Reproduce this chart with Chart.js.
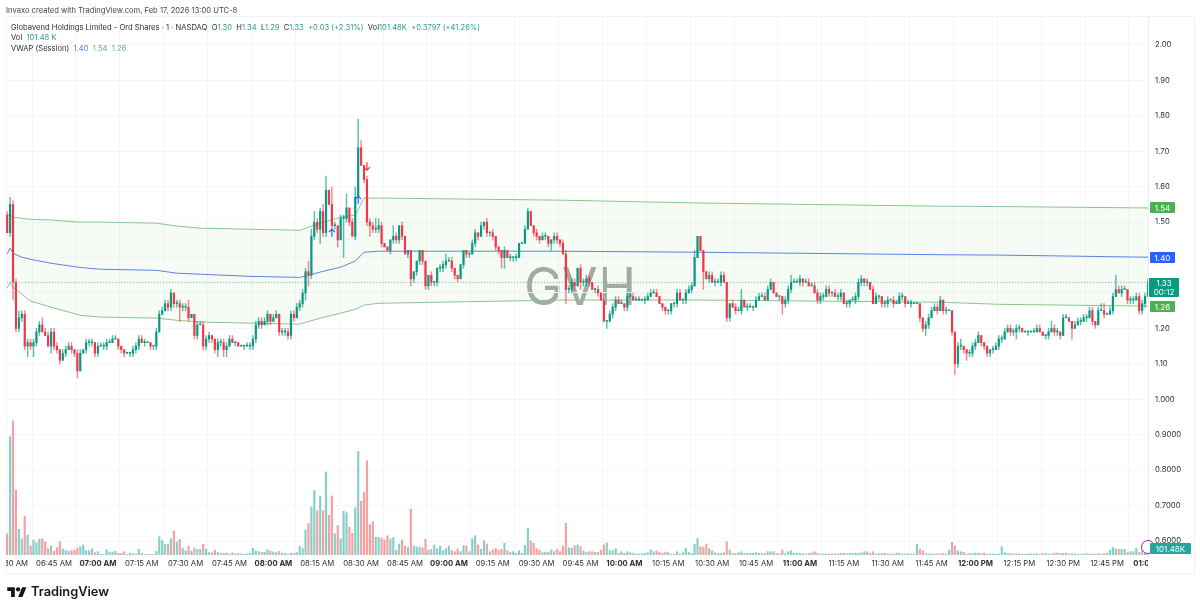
<!DOCTYPE html>
<html>
<head>
<meta charset="utf-8">
<title>GVH</title>
<script src="https://cdn.jsdelivr.net/npm/chart.js@4/dist/chart.umd.min.js"></script>
<style>
    html, body { margin: 0; padding: 0; background: #fff; }
    body { width: 1200px; height: 611px; position: relative; overflow: hidden; font-family: Inter, "Liberation Sans", sans-serif; color: #2a2e39; }
    #gvhChart { position: absolute; left: 0; top: 0; z-index: 1; }
    .txt { position: absolute; white-space: pre; font-size: 7.6px; line-height: 11px; z-index: 2; }
    .up { color: #2f9e8f; }
    .tag { position: absolute; z-index: 3; color: #fff; font-size: 8px; line-height: 10px; text-align: center; border-radius: 1px; }
    #frame { position: absolute; left: 6px; top: 16px; width: 1187px; height: 556px; border: 1px solid #f0f3fa; z-index: 0; }
    #watermark { position: absolute; left: 524px; top: 256px; font-size: 52px; line-height: 62px; color: #a8aaa8; z-index: 0; }
    .cover { position: absolute; background: #fff; z-index: 2; }
    #volIcon { position: absolute; left: 1141px; top: 540px; width: 12px; height: 12px; border: 1px solid #9c27b0; border-radius: 50%; z-index: 2; background: #fff; }
    #logo { position: absolute; left: 7px; top: 585px; z-index: 2; }
    #brand { position: absolute; left: 31px; top: 582px; font-size: 12.8px; line-height: 20px; font-weight: 600; color: #131722; z-index: 2; }
</style>
</head>
<body>
<div id="frame"></div>
<div id="watermark">GVH</div>
<canvas id="gvhChart" width="1200" height="611"></canvas>

<div class="cover" style="left:0;top:556px;width:6px;height:16px"></div>
<div class="cover" style="left:1148px;top:556px;width:44px;height:16px"></div>

<div class="txt" style="left:6px;top:5px;color:#434651">Invaxo created with TradingView.com, Feb 17, 2026 13:00 UTC-8</div>
<div class="txt" style="left:11px;top:22px">Globavend Holdings Limited - Ord Shares · 1 · NASDAQ  O<span class="up">1.30</span>  H<span class="up">1.34</span>  L<span class="up">1.29</span>  C<span class="up">1.33</span>  <span class="up">+0.03 (+2.31%)</span>  Vol<span class="up">101.48K</span>  <span class="up">+0.3797 (+41.26%)</span></div>
<div class="txt" style="left:11px;top:32px">Vol  <span class="up">101.48 K</span></div>
<div class="txt" style="left:11px;top:43px">VWAP (Session)  <span style="color:#5b82e8">1.40</span>  <span style="color:#6fb672">1.54</span>  <span style="color:#6fb672">1.26</span></div>

<div class="tag" style="left:1150px;top:202px;width:25px;height:10px;padding-top:1px;background:#4caf50">1.54</div>
<div class="tag" style="left:1150px;top:252px;width:25px;height:10px;padding-top:1px;background:#2962ff">1.40</div>
<div class="tag" style="left:1149px;top:278px;width:30px;height:18px;padding-top:1px;background:#089981;line-height:9px">1.33<br>00:12</div>
<div class="tag" style="left:1150px;top:301px;width:25px;height:10px;padding-top:1px;background:#4caf50">1.26</div>
<div id="volIcon"></div>
<div class="tag" style="left:1150px;top:543px;width:41px;height:10px;padding-top:1px;background:#26a69a">101.48K</div>

<svg id="logo" width="20" height="13" viewBox="0 0 36 24"><path fill="#131722" d="M14 22H7V11H0V4h14v18zM28 22h-8l7.5-18h8L28 22z"/><circle fill="#131722" cx="20" cy="8" r="4"/></svg>
<div id="brand">TradingView</div>

<script>
// 1 minute bars, first bar is 06:29 (values are minutes since midnight)
const firstBarMinute = 389;

const closes = [
    1.47,1.55,1.33,1.20,1.23,1.24,1.15,1.16,1.15,1.16,
    1.19,1.21,1.19,1.18,1.15,1.19,1.15,1.14,1.11,1.13,
    1.14,1.15,1.14,1.13,1.08,1.13,1.14,1.16,1.16,1.16,
    1.13,1.15,1.15,1.15,1.16,1.16,1.17,1.17,1.15,1.14,
    1.13,1.13,1.13,1.14,1.15,1.17,1.16,1.16,1.16,1.15,
    1.15,1.19,1.24,1.25,1.27,1.26,1.30,1.27,1.27,1.26,
    1.26,1.26,1.23,1.24,1.18,1.21,1.21,1.15,1.17,1.18,
    1.17,1.14,1.16,1.16,1.14,1.15,1.17,1.16,1.16,1.15,
    1.15,1.15,1.15,1.15,1.17,1.21,1.22,1.21,1.22,1.24,
    1.22,1.23,1.24,1.19,1.19,1.19,1.18,1.24,1.23,1.26,
    1.27,1.30,1.36,1.35,1.46,1.50,1.48,1.53,1.47,1.59,
    1.55,1.49,1.49,1.45,1.51,1.51,1.54,1.50,1.46,1.57,
    1.71,1.66,1.62,1.50,1.49,1.48,1.48,1.49,1.44,1.43,
    1.42,1.45,1.46,1.45,1.49,1.46,1.41,1.42,1.34,1.36,
    1.39,1.42,1.39,1.32,1.35,1.33,1.33,1.37,1.37,1.38,
    1.39,1.39,1.37,1.35,1.34,1.38,1.42,1.41,1.41,1.44,
    1.47,1.46,1.49,1.50,1.47,1.47,1.46,1.43,1.42,1.40,
    1.42,1.40,1.40,1.40,1.40,1.44,1.44,1.48,1.53,1.49,
    1.47,1.46,1.45,1.46,1.46,1.44,1.45,1.46,1.45,1.44,
    1.41,1.31,1.31,1.33,1.32,1.37,1.33,1.33,1.34,1.33,
    1.31,1.31,1.30,1.28,1.22,1.22,1.24,1.26,1.28,1.27,
    1.27,1.26,1.29,1.29,1.28,1.28,1.28,1.28,1.28,1.29,
    1.30,1.30,1.29,1.27,1.26,1.25,1.25,1.27,1.27,1.30,
    1.28,1.28,1.30,1.31,1.32,1.40,1.46,1.42,1.36,1.34,
    1.35,1.33,1.33,1.33,1.35,1.33,1.23,1.27,1.26,1.25,
    1.25,1.28,1.26,1.26,1.26,1.26,1.28,1.29,1.29,1.28,
    1.31,1.33,1.30,1.29,1.29,1.27,1.28,1.31,1.33,1.33,
    1.33,1.34,1.33,1.33,1.32,1.32,1.30,1.28,1.29,1.29,
    1.31,1.30,1.30,1.29,1.29,1.30,1.27,1.27,1.28,1.28,
    1.29,1.33,1.34,1.33,1.33,1.31,1.27,1.29,1.29,1.27,
    1.27,1.28,1.28,1.27,1.27,1.29,1.29,1.27,1.27,1.27,
    1.27,1.27,1.23,1.20,1.21,1.23,1.25,1.26,1.25,1.28,
    1.25,1.25,1.25,1.19,1.10,1.15,1.15,1.14,1.13,1.13,
    1.15,1.16,1.18,1.16,1.15,1.13,1.14,1.14,1.15,1.17,
    1.17,1.19,1.20,1.19,1.19,1.20,1.20,1.19,1.19,1.19,
    1.19,1.19,1.20,1.19,1.18,1.18,1.19,1.20,1.19,1.19,
    1.18,1.23,1.23,1.22,1.20,1.21,1.22,1.22,1.23,1.23,
    1.25,1.22,1.21,1.25,1.25,1.24,1.24,1.25,1.29,1.31,
    1.30,1.31,1.31,1.28,1.28,1.28,1.29,1.25,1.27,1.29,1.33
];

// opening price of the very first bar, later bars open on the previous close
const firstOpen = 1.52;

// upper wick, in cents above the body
const wickUp = [
    1,2,1,1,2,1,1,1,1,1, 1,1,2,1,1,1,1,1,0,1, 1,1,1,0,1,1,0,1,1,1, 0,1,1,1,1,1,1,1,0,0,
    0,0,0,1,1,1,1,1,0,0, 0,1,1,1,1,1,1,0,1,1, 1,1,2,0,0,1,1,1,1,1, 0,0,1,1,1,1,1,1,0,0,
    0,0,1,1,1,1,1,1,1,1, 0,1,1,0,1,1,1,1,1,1, 1,1,1,3,2,3,1,1,2,4, 0,5,1,0,1,1,4,0,1,3,
    8,2,0,1,1,1,3,2,1,0, 0,0,3,1,0,1,0,0,0,0, 0,0,0,0,0,1,0,0,1,1, 2,1,1,0,0,0,0,0,0,1,
    1,0,1,0,1,0,1,0,0,0, 1,0,1,0,1,0,0,1,1,0, 0,1,0,1,1,0,0,1,1,0, 1,1,1,1,1,0,1,1,1,1,
    0,0,1,0,0,0,1,1,1,1, 1,0,1,1,1,1,1,0,1,1, 1,1,1,0,0,0,0,0,0,1, 1,0,1,1,1,2,0,0,0,0,
    1,1,1,1,1,1,0,0,1,1, 1,3,0,1,1,0,1,1,1,1, 1,1,0,0,0,0,1,1,2,1, 1,1,0,1,1,1,1,1,1,1,
    1,1,0,1,1,1,0,1,0,1, 1,1,1,0,1,0,1,1,0,0, 1,1,0,1,1,1,1,0,1,1, 0,0,0,0,1,1,1,1,1,1,
    0,1,0,0,0,1,2,0,0,1, 1,1,1,0,0,0,0,1,1,1, 1,1,1,1,1,1,1,0,0,0, 0,1,1,1,0,0,1,2,1,1,
    0,1,1,0,0,1,1,1,1,1, 1,1,0,1,2,2,0,1,1,4, 1,1,1,0,1,1,1,1,1,1,1
];

// lower wick, in cents below the body
const wickDown = [
    0,1,5,1,1,1,1,3,1,3, 1,1,0,0,0,2,1,1,1,0, 1,0,1,1,2,0,0,1,1,1, 1,1,0,1,1,0,0,0,1,1,
    1,0,1,1,1,1,0,1,0,1, 1,1,0,0,0,1,1,1,1,4, 1,1,1,0,1,1,0,1,1,1, 1,1,2,1,2,2,0,0,1,0,
    0,1,0,1,1,1,1,1,0,1, 1,0,0,1,1,1,1,1,1,0, 1,1,2,3,1,1,1,4,1,1, 0,1,1,2,0,11,1,1,0,1,
    0,0,1,1,3,1,1,1,1,0, 0,1,1,1,1,1,0,1,2,1, 1,1,1,1,1,1,1,1,1,1, 1,0,1,1,1,0,1,1,1,0,
    1,1,0,1,1,1,1,1,1,3, 3,0,1,1,1,0,0,0,0,0, 1,1,1,0,1,1,2,1,1,1, 0,4,1,1,1,0,2,1,1,1,
    0,1,1,0,0,2,0,1,1,0, 0,1,1,0,0,0,0,0,1,0, 0,0,0,0,1,1,1,1,1,1, 0,1,1,0,1,0,0,0,5,0,
    1,0,1,0,1,0,1,1,0,1, 0,1,0,1,0,1,0,0,0,0, 0,0,0,0,1,3,1,1,1,0, 0,1,1,0,0,0,0,1,1,1,
    0,1,1,0,1,1,0,1,1,0, 1,1,1,1,1,0,0,0,1,1, 1,1,0,1,0,0,1,1,0,1, 0,0,1,1,2,1,0,0,1,0,
    1,1,0,1,3,1,1,1,2,1, 1,1,0,1,1,1,1,1,0,1, 1,0,0,1,1,2,1,0,0,1, 0,0,0,0,0,1,1,0,1,1,
    1,0,0,0,3,0,0,1,0,1, 0,1,1,0,0,1,0,0,1,0, 0,1,0,1,1,1,0,1,1,1,0
];

// volume per bar, in thousands of shares
const volumes = [
    304,1715,1946,942,372,232,565,290,135,217,
    179,227,237,188,92,130,53,106,193,92,
    68,58,63,72,101,116,145,63,63,87,
    34,48,10,10,77,43,43,53,24,24,
    48,10,24,19,14,82,24,10,10,10,
    10,53,266,208,155,155,237,348,188,227,
    101,63,130,58,101,82,82,155,87,34,
    34,72,39,24,24,29,10,34,14,24,
    14,10,14,24,97,58,48,39,39,77,
    53,43,34,53,24,24,10,24,24,34,
    125,97,362,459,696,937,642,855,642,1203,
    575,855,309,430,232,633,613,401,314,686,
    1502,778,908,1367,440,483,256,256,246,217,
    280,232,251,72,159,217,130,111,667,130,
    116,116,106,227,72,82,145,92,130,63,
    92,130,63,48,87,48,135,130,48,237,
    280,145,82,208,159,48,72,97,72,82,
    169,63,39,48,24,63,24,140,391,203,
    169,92,72,34,43,39,72,48,82,48,
    130,459,106,101,135,145,121,58,39,48,
    48,39,39,72,145,174,63,63,92,24,
    48,24,48,34,24,14,14,19,24,34,
    72,48,58,39,24,43,34,14,14,48,
    14,34,97,39,24,155,237,121,116,159,
    92,63,34,24,24,34,193,72,24,24,
    34,48,24,24,24,24,34,24,19,24,
    48,48,48,24,14,72,19,48,63,24,
    24,24,19,14,24,29,48,24,14,14,
    14,19,14,14,19,24,24,19,24,24,
    29,24,29,48,48,24,48,14,19,24,
    24,14,14,14,29,24,14,14,19,14,
    14,155,82,63,19,14,19,14,19,14,
    24,14,72,184,130,63,48,39,14,24,
    19,29,29,24,29,14,14,14,10,14,
    121,34,19,24,14,14,19,14,10,14,
    14,14,19,10,24,19,14,14,29,29,
    24,24,29,14,19,14,14,10,19,19,
    14,14,14,19,14,19,24,72,111,87,
    82,82,82,34,48,48,97,39,72,48,101
];

// VWAP (Session) readings, the three lines share the same times
const vwapTimes = [389,390,391,394,397,404,414,421,440,447,455,472,489,496,503,508,511,516,578,626,708,728,779];
const vwapUpper = [1.520,1.520,1.514,1.511,1.508,1.506,1.500,1.500,1.497,1.489,1.483,1.480,1.477,1.497,1.514,1.520,1.568,1.568,1.562,1.554,1.545,1.544,1.540];
const vwapMid = [1.410,1.427,1.412,1.401,1.395,1.384,1.372,1.367,1.364,1.356,1.353,1.347,1.344,1.359,1.373,1.390,1.415,1.418,1.418,1.415,1.408,1.407,1.401];
const vwapLower = [1.314,1.331,1.316,1.297,1.277,1.260,1.237,1.232,1.229,1.223,1.218,1.215,1.212,1.229,1.243,1.254,1.266,1.271,1.280,1.280,1.274,1.268,1.263];

const lastPrice = 1.33;

// arrows from the strategy on the chart
const buySignalTimes = [500, 509];
const buySignalPrices = [1.469, 1.562];
const sellSignalTimes = [512];
const sellSignalPrices = [1.658];

// axes
const priceTicks = [2.0,1.9,1.8,1.7,1.6,1.5,1.4,1.3,1.2,1.1,1.0,0.9,0.8,0.7,0.6];
const priceTickLabels = ['2.00','1.90','1.80','1.70','1.60','1.50','1.40','1.30','1.20','1.10','1.000','0.9000','0.8000','0.7000','0.6000'];
const timeTicks = [390,405,420,435,450,465,480,495,510,525,540,555,570,585,600,615,630,645,660,675,690,705,720,735,750,765,780];
const timeTickLabels = ['06:30 AM','06:45 AM','07:00 AM','07:15 AM','07:30 AM','07:45 AM','08:00 AM','08:15 AM','08:30 AM','08:45 AM','09:00 AM','09:15 AM','09:30 AM','09:45 AM','10:00 AM','10:15 AM','10:30 AM','10:45 AM','11:00 AM','11:15 AM','11:30 AM','11:45 AM','12:00 PM','12:15 PM','12:30 PM','12:45 PM','01:00 PM'];

const FONT = 'Inter, "Liberation Sans", sans-serif';
const UP = '#089981';
const DOWN = '#f23645';

// Draws the small buy/sell arrows at their price and time
const signalArrows = {
    id: 'signalArrows',
    afterDatasetsDraw(chart) {
        const { ctx, scales } = chart;
        const arrow = (t, p, color, dir) => {
            const x = scales.x.getPixelForValue(t);
            const y = scales.y.getPixelForValue(p);
            ctx.save();
            ctx.strokeStyle = color;
            ctx.lineWidth = 1.2;
            ctx.beginPath();
            ctx.moveTo(x, y - 4 * dir);
            ctx.lineTo(x, y + 4 * dir);
            ctx.moveTo(x - 3, y + dir);
            ctx.lineTo(x, y + 4 * dir);
            ctx.lineTo(x + 3, y + dir);
            ctx.stroke();
            ctx.restore();
        };
        buySignalTimes.forEach((t, i) => arrow(t, buySignalPrices[i], '#2962ff', -1));
        sellSignalTimes.forEach((t, i) => arrow(t, sellSignalPrices[i], DOWN, 1));
    }
};

function initGvhChart() {
    const minutes = closes.map((_, i) => firstBarMinute + i);
    const opens = closes.map((_, i) => (i === 0 ? firstOpen : closes[i - 1]));
    const isUp = closes.map((c, i) => c >= opens[i]);

    const volumeBars = minutes.map((t, i) => ({ x: t, y: volumes[i] }));
    const wicks = minutes.map((t, i) => ({
        x: t,
        y: [Math.min(opens[i], closes[i]) - wickDown[i] / 100, Math.max(opens[i], closes[i]) + wickUp[i] / 100]
    }));
    const bodies = minutes.map((t, i) => ({ x: t, y: [opens[i], closes[i]] }));
    const vwapLine = values => vwapTimes.map((t, i) => ({ x: t, y: values[i] }));

    new Chart(document.getElementById('gvhChart'), {
        type: 'bar',
        data: {
            datasets: [
                {
                    data: volumeBars,
                    yAxisID: 'yVol',
                    barThickness: 1.5,
                    grouped: false,
                    order: 10,
                    backgroundColor: isUp.map(u => (u ? 'rgba(38,166,154,0.55)' : 'rgba(239,83,80,0.55)'))
                },
                {
                    data: wicks,
                    barThickness: 0.8,
                    grouped: false,
                    order: 2,
                    backgroundColor: isUp.map(u => (u ? 'rgba(8,153,129,0.65)' : 'rgba(242,54,69,0.6)'))
                },
                {
                    data: bodies,
                    barThickness: 1.5,
                    minBarLength: 1,
                    grouped: false,
                    order: 1,
                    backgroundColor: isUp.map(u => (u ? UP : DOWN))
                },
                {
                    type: 'line',
                    data: vwapLine(vwapUpper),
                    borderColor: '#8cc48e',
                    borderWidth: 1,
                    pointRadius: 0,
                    fill: 5,
                    backgroundColor: 'rgba(76,175,80,0.05)',
                    order: 4
                },
                {
                    type: 'line',
                    data: vwapLine(vwapMid),
                    borderColor: '#5b82e8',
                    borderWidth: 1,
                    pointRadius: 0,
                    order: 4
                },
                {
                    type: 'line',
                    data: vwapLine(vwapLower),
                    borderColor: '#8cc48e',
                    borderWidth: 1,
                    pointRadius: 0,
                    order: 4
                },
                {
                    type: 'line',
                    data: [{ x: firstBarMinute, y: lastPrice }, { x: minutes[minutes.length - 1], y: lastPrice }],
                    borderColor: '#5fb8a8',
                    borderWidth: 1,
                    borderDash: [1, 2],
                    pointRadius: 0,
                    order: 3
                }
            ]
        },
        options: {
            responsive: false,
            animation: false,
            devicePixelRatio: 1,
            layout: { padding: { left: 6, top: 17, right: 0, bottom: 0 } },
            plugins: { legend: { display: false }, tooltip: { enabled: false } },
            scales: {
                x: {
                    type: 'linear',
                    min: 388.6,
                    max: 779,
                    offset: false,
                    afterBuildTicks: axis => { axis.ticks = timeTicks.map(v => ({ value: v })); },
                    afterFit: axis => {
                        axis.height = 56;
                        axis.paddingLeft = 0;
                        axis.paddingRight = 0;
                    },
                    grid: { color: '#f5f6f8', drawTicks: false },
                    border: { display: false },
                    ticks: {
                        autoSkip: false,
                        maxRotation: 0,
                        padding: 4,
                        color: '#2a2e39',
                        callback: value => timeTickLabels[timeTicks.indexOf(value)],
                        font: ctx => ({
                            family: FONT,
                            size: 7.7,
                            weight: ctx.tick && ctx.tick.value % 60 === 0 ? 'bold' : 'normal'
                        })
                    }
                },
                y: {
                    position: 'right',
                    min: 0.5605,
                    max: 2.079,
                    afterBuildTicks: axis => { axis.ticks = priceTicks.map(v => ({ value: v })); },
                    afterFit: axis => {
                        axis.width = 52;
                        axis.paddingTop = 0;
                        axis.paddingBottom = 0;
                    },
                    grid: { color: '#f5f6f8', drawTicks: false },
                    border: { display: true, color: '#eceef2' },
                    ticks: {
                        padding: 7,
                        color: '#2a2e39',
                        font: { family: FONT, size: 7.7 },
                        callback: value => priceTickLabels[priceTicks.indexOf(value)]
                    }
                },
                yVol: {
                    display: false,
                    min: 0,
                    max: 7800
                }
            }
        },
        plugins: [signalArrows]
    });
}

initGvhChart();
</script>
</body>
</html>
